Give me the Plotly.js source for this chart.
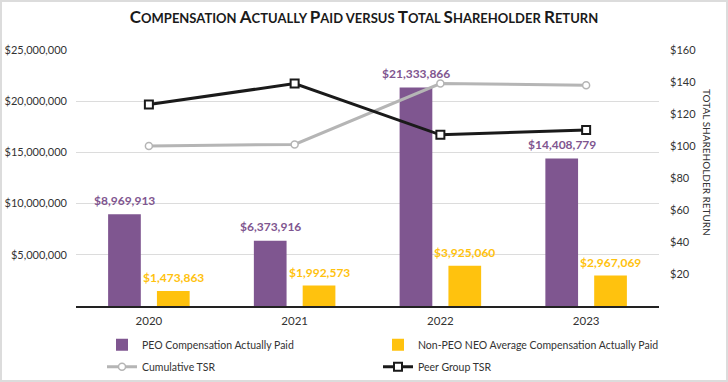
<!DOCTYPE html>
<html><head><meta charset="utf-8">
<script src="https://cdn.plot.ly/plotly-3.0.1.min.js"></script>
<style>
html,body{margin:0;padding:0;background:#fff}
#wrap{position:relative;width:728px;height:382px}
#chart{position:absolute;left:0;top:0;width:728px;height:382px}
#frame{position:absolute;left:0;top:0;width:728px;height:382px;box-sizing:border-box;border:2px solid #dcdcdc;pointer-events:none}
</style>
</head><body>
<div id="wrap"><div id="chart"></div><div id="frame"></div></div>
<script>
const years = ['2020', '2021', '2022', '2023'];
const peoCap = [8969913, 6373916, 21333866, 14408779];
const neoCap = [1473863, 1992573, 3925060, 2967069];
const cumulativeTsr = [100, 101, 139, 138];
const peerTsr = [126, 139, 107, 110];
const leftTickVals = [5000000, 10000000, 15000000, 20000000, 25000000];
const leftTickText = ['$5,000,000', '$10,000,000', '$15,000,000', '$20,000,000', '$25,000,000'];
const rightTickVals = [20, 40, 60, 80, 100, 120, 140, 160];
const rightTickText = ['$20', '$40', '$60', '$80', '$100', '$120', '$140', '$160'];
const seriesNames = ['PEO Compensation Actually Paid', 'Non-PEO NEO Average Compensation Actually Paid', 'Cumulative TSR', 'Peer Group TSR'];
const chartTitle = 'Compensation Actually Paid versus Total Shareholder Return';
const rightAxisTitle = 'TOTAL SHAREHOLDER RETURN';

const PURPLE = '#7f5690';
const YELLOW = '#ffc20e';
const GRAY = '#b5b5b5';
const BLACK = '#1a1a1a';
const FONT = 'Lato, "Open Sans", sans-serif';

function smallCaps(str, big, small) {
  return str.split(' ').map(w => {
    const first = w[0];
    if (first === first.toUpperCase()) {
      return '<span style="font-size:' + big + 'px">' + first + '</span>' +
             '<span style="font-size:' + small + 'px">' + w.slice(1).toUpperCase() + '</span>';
    }
    return '<span style="font-size:' + small + 'px">' + w.toUpperCase() + '</span>';
  }).join(' ');
}
function money(v) { return '$' + v.toLocaleString('en-US'); }

const traces = [
  {type: 'bar', x: years, y: peoCap, name: seriesNames[0], marker: {color: PURPLE},
   legend: 'legend', legendgroup: 'g1', hoverinfo: 'skip'},
  {type: 'bar', x: years, y: neoCap, name: seriesNames[1], marker: {color: YELLOW},
   legend: 'legend2', legendgroup: 'g2', hoverinfo: 'skip'},
  {type: 'scatter', mode: 'lines+markers', x: years, y: cumulativeTsr, name: seriesNames[2], yaxis: 'y2',
   line: {color: GRAY, width: 3}, legend: 'legend', legendgroup: 'g3',
   marker: {symbol: 'circle', size: 7, color: '#ffffff', line: {color: GRAY, width: 1.5}}},
  {type: 'scatter', mode: 'lines+markers', x: years, y: peerTsr, name: seriesNames[3], yaxis: 'y2',
   line: {color: BLACK, width: 3}, legend: 'legend2', legendgroup: 'g4',
   marker: {symbol: 'square', size: 8, color: '#ffffff', line: {color: BLACK, width: 2}}}
];

const annotations = [];
years.forEach((yr, i) => {
  annotations.push({x: i, y: peoCap[i], xref: 'x', yref: 'y', text: money(peoCap[i]),
    showarrow: false, xshift: -24.5, yshift: 14, xanchor: 'center', yanchor: 'middle',
    font: {family: FONT, size: 12, color: PURPLE, weight: 'bold'}});
  annotations.push({x: i, y: neoCap[i], xref: 'x', yref: 'y', text: money(neoCap[i]),
    showarrow: false, xshift: 24.5, yshift: 13, xanchor: 'center', yanchor: 'middle',
    font: {family: FONT, size: 12, color: YELLOW, weight: 'bold'}});
});
annotations.push({x: (707 - 76) / 583, xref: 'paper', y: (306 - 162) / 256, yref: 'paper', text: rightAxisTitle,
  showarrow: false, textangle: 90, xanchor: 'center', yanchor: 'middle',
  font: {family: FONT, size: 10, color: '#333'}});

const legendCommon = {orientation: 'v', xanchor: 'left', y: -0.095, yanchor: 'top', traceorder: 'grouped',
  tracegroupgap: 3, itemwidth: 30, bgcolor: 'rgba(0,0,0,0)',
  font: {family: FONT, size: 10.5, color: '#333'}, itemclick: false, itemdoubleclick: false};

const layout = {
  width: 728, height: 382,
  margin: {l: 76, r: 69, t: 50, b: 76, autoexpand: false},
  paper_bgcolor: '#ffffff', plot_bgcolor: '#ffffff',
  font: {family: FONT, size: 11, color: '#333333'},
  title: {text: smallCaps(chartTitle, 17, 13), x: 0.5, xanchor: 'center', y: 1 - 18 / 382, yanchor: 'middle',
          yref: 'container', font: {family: FONT, size: 13, color: '#1a1a1a', weight: 'bold'}},
  barmode: 'group', bargap: 0.33, bargroupgap: 0.33,
  hovermode: false,
  xaxis: {type: 'category', categoryorder: 'array', categoryarray: years, range: [-0.5, years.length - 0.5],
          showgrid: false, zeroline: false, showline: true, linecolor: '#222', linewidth: 1.5,
          ticks: '', tickfont: {size: 11.5, color: '#333'}, ticklabelstandoff: 4},
  yaxis: {range: [0, 25000000], tickvals: leftTickVals, ticktext: leftTickText, showgrid: true,
          gridcolor: '#dcdcdc', gridwidth: 1, zeroline: false, showline: false, ticks: '',
          ticklabelstandoff: 8, tickfont: {size: 11, color: '#333'}},
  yaxis2: {range: [0, 160], overlaying: 'y', side: 'right', tickvals: rightTickVals, ticktext: rightTickText,
           showgrid: false, zeroline: false, showline: false, ticks: '', ticklabelstandoff: 10,
           tickfont: {size: 11, color: '#333'}},
  legend: Object.assign({}, legendCommon, {x: (102 - 76) / 583}),
  legend2: Object.assign({}, legendCommon, {x: (378 - 76) / 583}),
  showlegend: true,
  annotations: annotations
};

Plotly.newPlot('chart', traces, layout, {displayModeBar: false, staticPlot: true});
</script>
</body></html>
